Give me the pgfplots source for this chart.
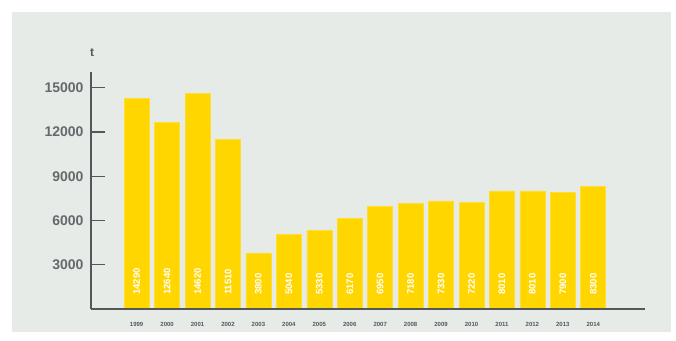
\documentclass[border=0pt]{standalone}
\usepackage{fontspec}
\setmainfont{Liberation Sans}
\usepackage{pgfplots}
\usepackage{pgfplotstable}
\pgfplotsset{compat=1.18}
\definecolor{panel}{RGB}{230,235,232}
\definecolor{baryellow}{RGB}{255,214,0}
\definecolor{axisgray}{RGB}{85,88,90}
\pgfplotstableread{
idx year val
0 1999 14290
1 2000 12640
2 2001 14620
3 2002 11510
4 2003 3800
5 2004 5040
6 2005 5330
7 2006 6170
8 2007 6950
9 2008 7180
10 2009 7330
11 2010 7220
12 2011 8010
13 2012 8010
14 2013 7900
15 2014 8300
}\datatable
\begin{document}
\begin{tikzpicture}[x=1pt,y=1pt]
\useasboundingbox (0,0) rectangle (676,340);
\fill[white] (0,0) rectangle (676,340);
\fill[panel] (12,8) rectangle (671,328);
\begin{axis}[
  at={(91pt,31pt)}, anchor=south west,
  scale only axis, width=554pt, height=237pt,
  xmin=-1.5, xmax=16.7, ymin=0, ymax=16070,
  axis x line=bottom, axis y line=left,
  axis line style={-, axisgray, line width=2.6pt},
  axis on top,
  ytick={3000,6000,9000,12000,15000},
  tick align=inside, major tick length=14pt,
  ytick style={axisgray, line width=1.2pt},
  xtick=data, xtick style={draw=none},
  xticklabels from table={\datatable}{year},
  xticklabel style={font=\fontsize{6}{7}\selectfont\bfseries, text=axisgray, yshift=-10pt},
  yticklabel style={font=\fontsize{14}{16}\selectfont\bfseries, text=axisgray!90, xshift=-4pt},
  /pgf/number format/assume math mode=true,
  /pgf/number format/1000 sep={},
  scaled y ticks=false,
  clip=false,
]
\addplot[ybar, bar width=25pt, fill=baryellow, draw=baryellow!80!white, line width=0.6pt] table[x=idx, y=val] {\datatable};
\addplot[only marks, mark=none, point meta=explicit symbolic,
  nodes near coords={\pgfplotspointmeta},
  nodes near coords style={rotate=90, anchor=west, text=white, font=\fontsize{9.5}{10}\selectfont\bfseries, inner sep=0pt}]
  table[x=idx, y expr=950, meta=val] {\datatable};
\end{axis}
\node[anchor=south, font=\fontsize{12}{14}\selectfont\bfseries, text=axisgray] at (92,280) {t};
\end{tikzpicture}
\end{document}
